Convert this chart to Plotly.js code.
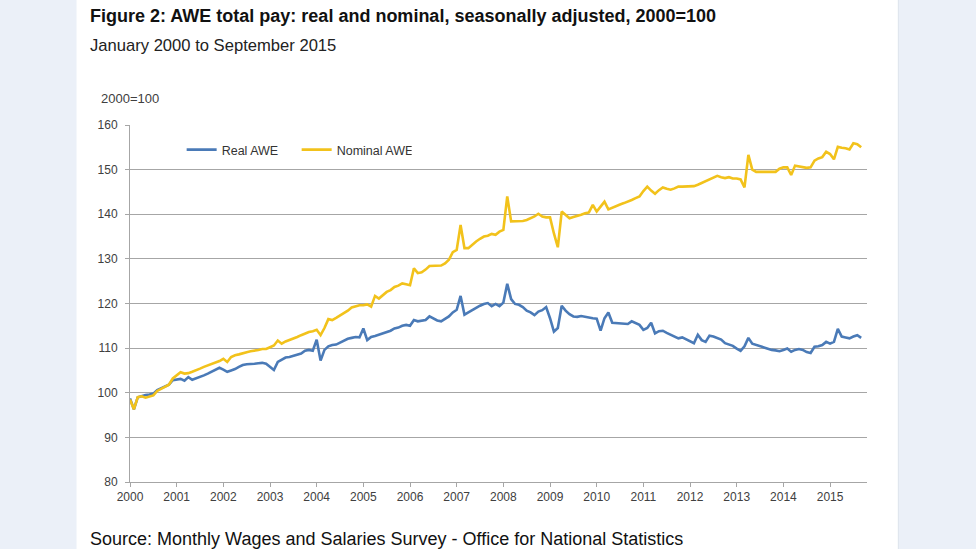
<!DOCTYPE html>
<html>
<head>
<meta charset="utf-8">
<script src="https://cdn.plot.ly/plotly-3.0.1.min.js"></script>
<style>
html,body{margin:0;padding:0;background:#ebf0f8;}
#chart{width:976px;height:549px;}
</style>
</head>
<body>
<div id="chart"></div>
<script>
// Year tick labels (each label marks January of that year)
const yearLabels = ['2000','2001','2002','2003','2004','2005','2006','2007','2008','2009','2010','2011','2012','2013','2014','2015'];

// Monthly index values, January 2000 to September 2015 (2000=100)
const realAWE = [
  98.7, 96.3, 99.0, 99.3, 99.5, 99.6, 99.8, 100.6, 101.0, 101.3, 101.8, 102.8,
  103.0, 103.1, 102.7, 103.5, 102.9, 103.2, 103.5, 103.9, 104.3, 104.7, 105.1, 105.6,
  105.2, 104.7, 105.0, 105.3, 105.8, 106.2, 106.4, 106.4, 106.5, 106.6, 106.7, 106.5,
  105.7, 105.1, 106.9, 107.4, 107.9, 108.0, 108.3, 108.6, 108.8, 109.4, 109.6, 109.4,
  111.9, 107.2, 109.6, 110.4, 110.7, 110.8, 111.2, 111.6, 112.1, 112.3, 112.5, 112.4,
  114.4, 111.8, 112.5, 112.7, 113.0, 113.3, 113.5, 113.9, 114.4, 114.6, 115.0, 115.2,
  115.0, 116.3, 116.0, 116.2, 116.3, 117.1, 116.6, 116.2, 116.0, 116.6, 117.1, 118.0,
  118.6, 121.7, 117.5, 118.0, 118.6, 119.0, 119.5, 119.9, 120.1, 119.4, 119.9, 119.4,
  120.2, 124.4, 121.0, 119.9, 119.7, 119.2, 118.4, 118.0, 117.4, 118.2, 118.5, 119.2,
  116.7, 113.7, 114.5, 119.5, 118.4, 117.6, 117.1, 117.0, 117.2, 117.0, 116.8, 116.7,
  116.6, 113.9, 116.7, 118.0, 115.7, 115.6, 115.6, 115.4, 115.4, 116.0, 115.6, 115.2,
  114.1, 114.5, 115.7, 113.3, 113.8, 113.9, 113.4, 113.0, 112.6, 112.2, 112.4, 112.0,
  111.6, 111.1, 113.0, 111.8, 111.4, 112.8, 112.6, 112.3, 111.9, 111.1, 110.8, 110.5,
  109.9, 109.4, 110.4, 112.3, 111.0, 110.7, 110.4, 110.1, 109.9, 109.6, 109.5, 109.3,
  109.6, 109.9, 109.2, 109.6, 109.8, 109.6, 109.1, 108.9, 110.3, 110.4, 110.7, 111.4,
  111.0, 111.4, 114.3, 112.6, 112.4, 112.2, 112.6, 112.9, 112.3
];

const nominalAWE = [
  98.5, 96.3, 99.0, 99.2, 98.9, 99.1, 99.4, 100.4, 100.9, 101.4, 101.8, 103.2,
  103.8, 104.6, 104.3, 104.4, 104.7, 105.0, 105.4, 105.8, 106.1, 106.4, 106.8, 107.1,
  107.6, 106.9, 108.0, 108.4, 108.6, 108.9, 109.1, 109.3, 109.4, 109.6, 109.8, 109.8,
  110.2, 110.6, 111.7, 111.0, 111.5, 111.8, 112.1, 112.5, 112.9, 113.3, 113.6, 113.8,
  114.1, 112.9, 114.5, 116.5, 116.3, 116.8, 117.3, 117.8, 118.4, 119.1, 119.4, 119.6,
  119.6, 119.8, 119.3, 121.7, 121.1, 121.8, 122.6, 123.0, 123.7, 124.0, 124.5, 124.3,
  124.1, 127.9, 126.8, 127.0, 127.6, 128.4, 128.4, 128.4, 128.5, 129.0, 129.8, 131.5,
  132.0, 137.6, 132.4, 132.4, 133.2, 133.9, 134.5, 135.0, 135.2, 135.6, 135.4, 136.1,
  136.5, 144.0, 138.4, 138.4, 138.4, 138.5, 138.7, 139.1, 139.5, 140.1, 139.5, 139.3,
  139.3, 135.7, 132.6, 140.6, 139.8, 139.1, 139.4, 139.6, 139.9, 140.2, 140.4, 142.1,
  140.6, 141.7, 142.8, 141.1, 141.5, 141.9, 142.2, 142.5, 142.8, 143.2, 143.6, 144.0,
  145.2, 146.2, 145.3, 144.6, 145.4, 146.0, 145.7, 145.5, 145.8, 146.2, 146.2, 146.2,
  146.2, 146.3, 146.6, 147.0, 147.4, 147.8, 148.2, 148.6, 148.3, 148.1, 148.3, 148.0,
  148.0, 147.8, 146.0, 153.3, 150.0, 149.5, 149.5, 149.5, 149.5, 149.5, 149.5, 150.2,
  150.5, 150.5, 148.8, 150.9, 150.7, 150.5, 150.4, 150.5, 152.0, 152.5, 152.8, 154.0,
  153.5, 152.3, 155.1, 154.9, 154.8, 154.5, 155.9, 155.7, 155.0
];

// month index for each observation, and tick positions at each January
const months = realAWE.map((_, i) => i);
const tickPos = yearLabels.map((_, i) => i * 12);

// pixel helpers for layout placement
const W = 976, H = 549;
const L = 130.4, R = 866.7, T = 125, B = 482;
const px = x => (x - L) / (R - L);
const py = y => (B - y) / (B - T);

const font = 'Liberation Sans, Arial, sans-serif';
const gridCol = '#a6a6a6';

const traces = [
  {x: months, y: realAWE, type: 'scatter', mode: 'lines', name: 'Real AWE',
   line: {color: '#4a7ab7', width: 2.6}},
  {x: months, y: nominalAWE, type: 'scatter', mode: 'lines', name: 'Nominal AWE',
   line: {color: '#f2c21b', width: 2.6}}
];

const layout = {
  width: W, height: H,
  margin: {l: L, r: W - R, t: T, b: H - B, pad: 0},
  paper_bgcolor: '#ebf0f8',
  plot_bgcolor: '#ffffff',
  font: {family: font, color: '#404040', size: 12},
  showlegend: true,
  legend: {orientation: 'h', x: px(182), y: py(150), xanchor: 'left', yanchor: 'middle',
           bgcolor: 'rgba(0,0,0,0)', font: {family: font, size: 12.5, color: '#333333'},
           itemwidth: 30, tracegroupgap: 0, entrywidth: 70, entrywidthmode: 'pixels'},
  xaxis: {
    range: [0, 189.5], tickmode: 'array', tickvals: tickPos, ticktext: yearLabels,
    showgrid: false, zeroline: false, showline: true, linecolor: gridCol, linewidth: 1,
    ticks: 'outside', ticklen: 4, tickcolor: gridCol,
    tickfont: {family: font, size: 12, color: '#404040'}
  },
  yaxis: {
    range: [80, 160], dtick: 10, tick0: 80,
    showgrid: true, gridcolor: gridCol, gridwidth: 1, zeroline: false,
    showline: true, linecolor: gridCol, linewidth: 1,
    ticks: 'outside', ticklen: 4, tickcolor: gridCol, ticklabelstandoff: 5,
    tickfont: {family: font, size: 12, color: '#404040'}
  },
  shapes: [
    {type: 'rect', xref: 'paper', yref: 'paper', layer: 'below',
     x0: px(77), x1: px(898), y0: py(H), y1: py(0),
     fillcolor: '#ffffff', line: {width: 0}},
    {type: 'line', xref: 'paper', yref: 'paper', layer: 'below',
     x0: px(898), x1: px(898), y0: py(H), y1: py(0),
     line: {color: '#dde3ec', width: 1}}
  ],
  annotations: [
    {text: '<b>Figure 2: AWE total pay: real and nominal, seasonally adjusted, 2000=100</b>',
     xref: 'paper', yref: 'paper', x: px(88), y: py(16), xanchor: 'left', yanchor: 'middle',
     showarrow: false, font: {family: font, size: 18, color: '#111111'}},
    {text: 'January 2000 to September 2015',
     xref: 'paper', yref: 'paper', x: px(88), y: py(46), xanchor: 'left', yanchor: 'middle',
     showarrow: false, font: {family: font, size: 16.6, color: '#222222'}},
    {text: '2000=100',
     xref: 'paper', yref: 'paper', x: px(99), y: py(98), xanchor: 'left', yanchor: 'middle',
     showarrow: false, font: {family: font, size: 13, color: '#404040'}},
    {text: 'Source: Monthly Wages and Salaries Survey - Office for National Statistics',
     xref: 'paper', yref: 'paper', x: px(88), y: py(539), xanchor: 'left', yanchor: 'middle',
     showarrow: false, font: {family: font, size: 18, color: '#111111'}}
  ]
};

Plotly.newPlot('chart', traces, layout, {displayModeBar: false, staticPlot: true});
</script>
</body>
</html>
